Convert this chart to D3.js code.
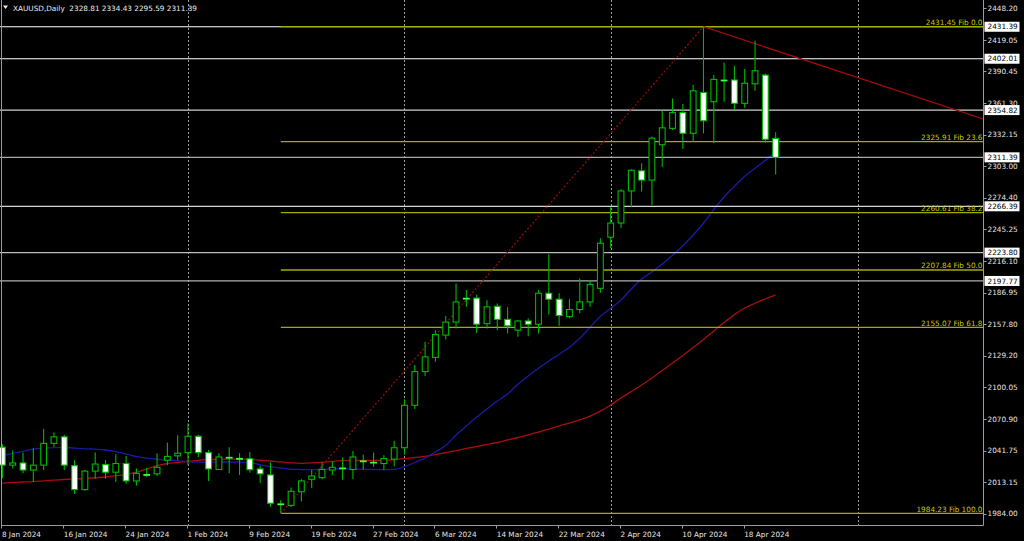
<!DOCTYPE html>
<html><head><meta charset="utf-8">
<script src="https://cdn.jsdelivr.net/npm/d3@7"></script>
<style>
body{margin:0;background:#000;overflow:hidden}
svg{display:block}
text{font-family:"DejaVu Sans",Tahoma,sans-serif;font-size:7.3px}
</style>
</head><body>
<svg id="c" width="1024" height="541"></svg>
<script>
// ---------- DATA ----------
const symbol = "XAUUSD,Daily";
const lastOHLC = ["2328.81","2334.43","2295.59","2311.39"];

const dates = [
"2024-01-08","2024-01-09","2024-01-10","2024-01-11","2024-01-12","2024-01-15","2024-01-16","2024-01-17","2024-01-18","2024-01-19",
"2024-01-22","2024-01-23","2024-01-24","2024-01-25","2024-01-26","2024-01-29","2024-01-30","2024-01-31","2024-02-01","2024-02-02",
"2024-02-05","2024-02-06","2024-02-07","2024-02-08","2024-02-09","2024-02-12","2024-02-13","2024-02-14","2024-02-15","2024-02-16",
"2024-02-19","2024-02-20","2024-02-21","2024-02-22","2024-02-23","2024-02-26","2024-02-27","2024-02-28","2024-02-29","2024-03-01",
"2024-03-04","2024-03-05","2024-03-06","2024-03-07","2024-03-08","2024-03-11","2024-03-12","2024-03-13","2024-03-14","2024-03-15",
"2024-03-18","2024-03-19","2024-03-20","2024-03-21","2024-03-22","2024-03-25","2024-03-26","2024-03-27","2024-03-28","2024-04-01",
"2024-04-02","2024-04-03","2024-04-04","2024-04-05","2024-04-08","2024-04-09","2024-04-10","2024-04-11","2024-04-12","2024-04-15",
"2024-04-16","2024-04-17","2024-04-18","2024-04-19","2024-04-22","2024-04-23"];

const open = [2045.0,2028.5,2030.5,2024.0,2028.5,2048.5,2054.5,2028.0,2006.0,2023.0,
2029.0,2022.0,2030.0,2014.0,2019.5,2020.5,2033.0,2037.0,2040.0,2055.0,
2040.0,2024.5,2035.3,2034.3,2034.3,2025.0,2019.5,1992.5,1991.5,2004.0,
2015.5,2017.0,2024.0,2025.5,2024.5,2032.0,2030.8,2030.0,2034.0,2044.5,
2083.5,2114.5,2127.5,2148.0,2160.0,2181.5,2182.0,2158.5,2174.5,2162.5,
2152.5,2161.0,2158.0,2186.5,2181.0,2165.0,2171.5,2178.5,2191.0,2238.0,
2251.0,2280.5,2299.0,2290.5,2323.0,2338.0,2352.5,2333.5,2371.0,2362.5,
2382.0,2382.5,2361.0,2379.0,2387.0,2328.81];
const high = [2048.0,2042.0,2040.0,2044.0,2062.0,2058.5,2056.5,2033.0,2024.0,2040.0,
2033.0,2038.5,2037.0,2025.5,2026.0,2039.5,2049.0,2056.0,2067.0,2056.5,
2042.5,2039.5,2045.0,2039.5,2040.5,2028.0,2031.0,1996.5,2008.0,2015.5,
2024.0,2031.0,2032.0,2035.5,2041.5,2038.0,2040.0,2037.5,2051.0,2089.0,
2120.5,2142.0,2152.5,2165.5,2195.5,2189.5,2185.0,2180.0,2177.0,2173.5,
2162.0,2163.5,2189.5,2222.5,2186.5,2181.0,2200.0,2198.5,2237.0,2266.0,
2282.0,2300.5,2306.0,2330.5,2354.5,2365.5,2360.5,2378.0,2431.45,2387.0,
2398.5,2395.5,2392.5,2418.5,2388.5,2334.43];
const low = [2016.5,2025.5,2021.0,2013.0,2024.0,2045.5,2024.0,2002.0,2005.0,2016.0,
2016.0,2013.0,2011.5,2009.5,2017.5,2018.5,2028.5,2033.0,2028.5,2036.0,
2014.0,2024.0,2021.0,2019.5,2021.5,2012.0,1990.0,1984.23,1990.0,1995.0,
2007.5,2015.5,2019.5,2015.0,2015.5,2024.5,2027.0,2024.0,2027.5,2038.0,
2080.0,2110.5,2123.5,2144.0,2154.0,2174.0,2150.0,2154.0,2152.5,2149.5,
2146.5,2147.0,2149.5,2167.0,2156.5,2163.5,2168.0,2174.0,2187.0,2228.0,
2246.5,2265.5,2280.0,2267.5,2302.5,2336.5,2319.0,2326.0,2333.5,2324.5,
2362.5,2355.0,2357.0,2372.5,2324.5,2295.59];
const close = [2028.5,2030.5,2024.0,2028.5,2048.5,2054.5,2028.5,2006.0,2023.0,2029.5,
2022.0,2030.0,2014.0,2021.0,2019.5,2026.5,2036.5,2039.5,2055.0,2040.0,
2025.0,2036.0,2035.3,2034.3,2024.3,2020.5,1993.5,1992.5,2004.5,2014.0,
2018.5,2024.5,2026.5,2025.5,2036.0,2032.0,2030.8,2034.5,2044.5,2083.5,
2114.5,2128.0,2148.5,2160.0,2178.5,2181.5,2158.0,2174.0,2162.5,2156.5,
2161.0,2158.0,2186.5,2181.0,2166.0,2171.5,2178.5,2194.5,2232.5,2251.0,
2280.5,2299.5,2290.5,2329.0,2338.5,2352.5,2333.5,2372.5,2345.0,2383.0,
2382.0,2361.0,2379.5,2391.0,2328.0,2311.39];

const maFast = [2036.9,2039.4,2041.2,2043.3,2044.0,2044.6,2044.9,2044.2,2043.5,2043.2,
2042.4,2041.0,2038.7,2036.4,2034.9,2033.9,2033.2,2032.5,2031.6,2031.2,
2031.3,2031.4,2031.4,2031.3,2030.9,2028.9,2027.1,2025.9,2024.7,2024.5,
2024.3,2024.7,2024.9,2025.1,2025.0,2024.7,2024.5,2024.4,2024.5,2027.2,
2030.9,2035.0,2040.6,2046.5,2056.2,2064.5,2072.7,2080.1,2087.4,2093.9,
2102.9,2110.4,2117.5,2124.2,2130.4,2136.8,2145.1,2155.2,2165.3,2172.6,
2180.3,2190.4,2199.6,2206.3,2213.4,2221.3,2230.2,2240.0,2250.8,2263.6,
2274.9,2284.8,2294.0,2301.3,2308.7,2316.0];
const maSlow = [2011.8,2012.6,2013.0,2013.4,2014.1,2014.7,2015.3,2015.8,2016.2,2016.9,
2017.6,2018.8,2019.9,2022.0,2025.0,2028.0,2030.0,2030.9,2032.0,2032.9,
2033.5,2033.9,2034.1,2034.1,2033.9,2033.0,2032.3,2031.4,2030.6,2030.2,
2030.5,2031.1,2032.0,2032.6,2032.9,2032.9,2032.9,2032.9,2033.5,2034.4,
2035.5,2036.6,2038.1,2040.1,2041.9,2043.8,2045.6,2047.5,2049.3,2051.6,
2053.9,2056.2,2058.9,2061.7,2064.5,2067.2,2070.0,2073.6,2078.2,2083.8,
2090.2,2096.2,2102.1,2108.6,2115.5,2122.4,2129.3,2136.6,2144.0,2151.8,
2159.6,2166.8,2172.9,2177.3,2181.2,2184.9];

const priceTicks = [2448.20,2419.05,2390.45,2361.30,2332.15,2303.00,2274.40,2245.25,2216.10,
2186.95,2157.80,2129.20,2100.05,2070.90,2041.75,2013.15,1984.00];

const hLinePrices = [2431.39,2402.01,2354.82,2311.39,2266.39,2223.80,2197.77];

const fibLevels = ["0.0","23.6","38.2","50.0","61.8","100.0"];
const fibPrices = [2431.45,2325.91,2260.61,2207.84,2155.07,1984.23];
const fibAnchorBars = [27, 68];          // low bar, high bar
const trendBars = [68, 95.2];
const trendPrices = [2431.45, 2346.5];
const separatorBars = [18, 39, 59, 83];  // month separators

// ---------- DRAW ----------
const W = 1024, H = 541, axisX = 983, axisY = 525.5;
const svg = d3.select("#c");
svg.append("rect").attr("width",W).attr("height",H).attr("fill","#000");

const n = dates.length;
const x = d3.scaleLinear().domain([0, n-1]).range([2.4, 2.4 + 10.31*(n-1)]);
const y = d3.scaleLinear().domain([1984.23, 2431.45]).range([513.3, 26.7]);

svg.append("clipPath").attr("id","clip").append("rect")
  .attr("x",0).attr("y",0).attr("width",axisX).attr("height",axisY);
const plot = svg.append("g").attr("clip-path","url(#clip)");

// month separators
plot.selectAll("line.sep").data(separatorBars).join("line")
  .attr("x1",d=>Math.round(x(d))+0.5).attr("x2",d=>Math.round(x(d))+0.5)
  .attr("y1",0).attr("y2",axisY)
  .attr("stroke","#9a9a9a").attr("stroke-width",1).attr("stroke-dasharray","2,2");

// moving averages
const line = d3.line().x((d,i)=>x(i)).y(d=>y(d)).curve(d3.curveMonotoneX);
plot.append("path").datum(maSlow).attr("d",line).attr("fill","none")
  .attr("stroke","#a80d0d").attr("stroke-width",1.3);
plot.append("path").datum(maFast).attr("d",line).attr("fill","none")
  .attr("stroke","#1a1aa6").attr("stroke-width",1.3);

// horizontal price lines
const hColors = ["#ffffff","#ffffff","#cfcfcf","#a8a8a8","#d6d6d6","#bdbdbd","#b0b0b0"];
plot.selectAll("line.h").data(hLinePrices).join("line")
  .attr("x1",0).attr("x2",axisX)
  .attr("y1",d=>y(d)).attr("y2",d=>y(d))
  .attr("stroke",(d,i)=>hColors[i]).attr("stroke-width",1.2);

// fibonacci
const fx0 = x(fibAnchorBars[0]);
plot.selectAll("line.fib").data(fibPrices).join("line")
  .attr("x1",fx0).attr("x2",axisX)
  .attr("y1",d=>y(d)).attr("y2",d=>y(d))
  .attr("stroke","#a8a800").attr("stroke-width",1.3);
plot.append("line")
  .attr("x1",x(fibAnchorBars[0])).attr("y1",y(fibPrices[5]))
  .attr("x2",x(fibAnchorBars[1])).attr("y2",y(fibPrices[0]))
  .attr("stroke","#9a0c0c").attr("stroke-width",1.2).attr("stroke-dasharray","2,2");
// trend line
plot.append("line")
  .attr("x1",x(trendBars[0])).attr("y1",y(trendPrices[0]))
  .attr("x2",x(trendBars[1])).attr("y2",y(trendPrices[1]))
  .attr("stroke","#a00c0c").attr("stroke-width",1.3);

// candles
const bars = dates.map((d,i)=>({i, o:open[i], h:high[i], l:low[i], c:close[i]}));
const green = "#00b800", bw = 5.8;
const cg = plot.append("g");
cg.selectAll("line.wick").data(bars).join("line")
  .attr("x1",d=>x(d.i)).attr("x2",d=>x(d.i))
  .attr("y1",d=>y(d.h)).attr("y2",d=>y(d.l))
  .attr("stroke",green).attr("stroke-width",1.1);
cg.selectAll("rect.body").data(bars.filter(d=>d.o!==d.c)).join("rect")
  .attr("x",d=>x(d.i)-bw/2)
  .attr("y",d=>y(Math.max(d.o,d.c)))
  .attr("width",bw)
  .attr("height",d=>Math.max(1,Math.abs(y(d.o)-y(d.c))))
  .attr("fill",d=>d.c>d.o?"#000":"#fff")
  .attr("stroke",green).attr("stroke-width",1.1);
cg.selectAll("line.doji").data(bars.filter(d=>d.o===d.c)).join("line")
  .attr("x1",d=>x(d.i)-bw/2-0.5).attr("x2",d=>x(d.i)+bw/2+0.5)
  .attr("y1",d=>y(d.o)).attr("y2",d=>y(d.o))
  .attr("stroke","#3cff3c").attr("stroke-width",1.8);

// fib labels
plot.selectAll("text.fib").data(fibPrices).join("text")
  .attr("x",axisX-0.5).attr("y",d=>y(d)-1.8)
  .attr("text-anchor","end").attr("fill","#c8c800")
  .text((d,i)=>d.toFixed(2)+" Fib "+fibLevels[i]);

// frame
svg.append("line").attr("x1",1.5).attr("x2",1.5).attr("y1",0).attr("y2",axisY).attr("stroke","#9a9a9a");
svg.append("line").attr("x1",axisX+0.5).attr("x2",axisX+0.5).attr("y1",0).attr("y2",axisY).attr("stroke","#9a9a9a");
svg.append("line").attr("x1",1).attr("x2",axisX+0.5).attr("y1",axisY).attr("y2",axisY).attr("stroke","#9a9a9a");

// price axis
const ya = svg.append("g");
ya.selectAll("line").data(priceTicks).join("line")
  .attr("x1",axisX).attr("x2",axisX+3.5)
  .attr("y1",d=>Math.round(y(d))+0.5).attr("y2",d=>Math.round(y(d))+0.5)
  .attr("stroke","#9a9a9a");
ya.selectAll("text").data(priceTicks).join("text")
  .attr("x",axisX+4.5).attr("y",d=>y(d)+2.7)
  .attr("fill","#e4e4e4").text(d=>d.toFixed(2));

// price line boxes
const bg = svg.append("g");
bg.selectAll("rect").data(hLinePrices).join("rect")
  .attr("x",axisX+1.5).attr("y",d=>y(d)-5).attr("width",35).attr("height",10)
  .attr("fill","#fff");
bg.selectAll("text").data(hLinePrices).join("text")
  .attr("x",axisX+4.5).attr("y",d=>y(d)+2.7)
  .attr("fill","#000").text(d=>d.toFixed(2));

// time axis
const fmt = d3.timeFormat("%-d %b %Y"), parse = d3.timeParse("%Y-%m-%d");
const tickIdx = d3.range(0, n, 6);
const xa = svg.append("g");
xa.selectAll("line").data(tickIdx).join("line")
  .attr("x1",i=>Math.round(x(i))-0.5).attr("x2",i=>Math.round(x(i))-0.5)
  .attr("y1",axisY).attr("y2",axisY+3)
  .attr("stroke","#9a9a9a");
xa.selectAll("text").data(tickIdx).join("text")
  .attr("x",i=>x(i)-0.5).attr("y",537)
  .attr("fill","#e4e4e4").text(i=>fmt(parse(dates[i])));

// title
svg.append("path").attr("d","M3,5.5 L8,5.5 L5.5,9 Z").attr("fill","#ececec");
svg.append("text").attr("x",13).attr("y",11).attr("fill","#ececec")
  .style("white-space","pre")
  .text(symbol + "  " + lastOHLC.join(" "));
</script>
</body></html>
